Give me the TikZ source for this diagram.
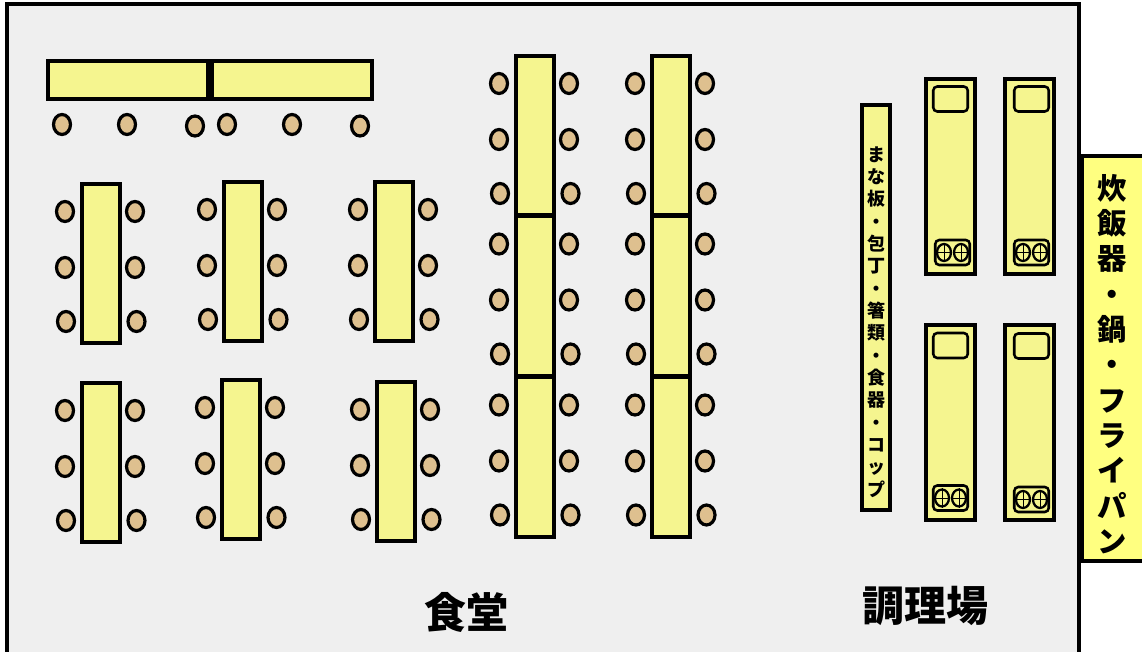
\documentclass[tikz,border=0pt]{standalone}
\usepackage{fontspec}
\usepackage{xcolor}
\usetikzlibrary{shapes.geometric}
\newfontfamily\cjk{Noto Sans CJK JP}

\begin{document}
\begin{tikzpicture}[x=0.75pt,y=-0.75pt,
  floorbox/.style={rectangle,draw=black,fill=floorgray,line width=3pt,minimum width=1072*0.75pt,minimum height=666*0.75pt},
  tablebox/.style={rectangle,draw=black,fill=tableyellow,line width=2.9pt,minimum width=38.2*0.75pt,minimum height=159.2*0.75pt,inner sep=0},
  widebox/.style={tablebox,minimum width=160.2*0.75pt,minimum height=38.2*0.75pt},
  chairdot/.style={ellipse,draw=black,fill=chairtan,line width=2.4pt,minimum width=17*0.75pt,minimum height=20*0.75pt,inner sep=0},
  stovebox/.style={tablebox,line width=3pt,minimum width=49*0.75pt,minimum height=195*0.75pt},
  sinkbox/.style={rectangle,rounded corners=3pt,draw=black,fill=tableyellow,line width=1.9pt,minimum width=34.5*0.75pt,minimum height=25*0.75pt,inner sep=0},
  burnerdot/.style={ellipse,draw=black,line width=1.7pt,minimum width=14*0.75pt,minimum height=17*0.75pt,inner sep=0},
  bigtext/.style={font=\cjk\bfseries\fontsize{31.5}{31.5}\selectfont,inner sep=0},
  sidetext/.style={align=center,inner sep=0,font=\cjk\bfseries\fontsize{22}{26.5}\selectfont},
  thintext/.style={align=center,inner sep=0,font=\cjk\bfseries\fontsize{13.5}{16.75}\selectfont}]
\definecolor{floorgray}{HTML}{EFEFEF}
\definecolor{tableyellow}{HTML}{F5F58F}
\definecolor{shelfyellow}{HTML}{FFFF80}
\definecolor{chairtan}{HTML}{DEC08F}

\useasboundingbox (0,0) rectangle (1142,652);
\node [floorbox] (room) at (543,337) {};

\node [widebox] (wideA) at (128,80) {};
\node [widebox] (wideB) at (292,80) {};
\foreach \nm/\cx/\cy in {a/62/124.5,b/127/124.5,c/195/126,d/227/124.5,e/292/124.5,f/360/126}
  {  \node [chairdot] (wide\nm) at (\cx,\cy) {};}

\foreach \nm/\tx/\ty in {t1/101/263.5,t2/243/261.5,t3/394/261.5,t4/101/462.5,t5/241/459.5,t6/396/461.5,
    p1/535/135.5,p2/535/296,p3/535/457,q1/671/135.5,q2/671/296,q3/671/457}
{
  \node [tablebox] (\nm) at (\tx,\ty) {};
  \node [chairdot] (\nm-l1) at (\tx-36,\ty-52) {};
  \node [chairdot] (\nm-l2) at (\tx-36,\ty+4) {};
  \node [chairdot] (\nm-l3) at (\tx-35,\ty+58) {};
  \node [chairdot] (\nm-r1) at (\tx+34,\ty-52) {};
  \node [chairdot] (\nm-r2) at (\tx+34,\ty+4) {};
  \node [chairdot] (\nm-r3) at (\tx+35.5,\ty+58) {};
}

\node [rectangle,draw=black,fill=tableyellow,line width=3pt,minimum width=28*0.75pt,minimum height=405*0.75pt,inner sep=0] (shelf) at (876,307.5) {};
\node [thintext] (shelftext) at (876,322) {ま\\な\\板\\・\\包\\丁\\・\\箸\\類\\・\\食\\器\\・\\コ\\ッ\\プ};

\foreach \nm/\sx/\sy/\kx/\ky/\bx/\by/\dx in {A/950/176.5/950.5/99/952.5/252.5/944,B/1029/176.5/1031.5/99/1031.5/252.5/1023,
    C/950/422/950.5/345.5/950.5/498/942,D/1029.5/422/1031.5/346/1031.5/499.5/1023}
{
  \node [stovebox] (stove\nm) at (\sx,\sy) {};
  \node [sinkbox] (sink\nm) at (\kx,\ky) {};
  \node [sinkbox] (plate\nm) at (\bx,\by) {};
  \node [burnerdot] (left\nm) at (\dx,\by) {};
  \node [burnerdot] (right\nm) at (\dx+17,\by) {};
  \draw [line width=0.7pt] (left\nm.north) -- (left\nm.south) (left\nm.west) -- (left\nm.east);
  \draw [line width=0.7pt] (right\nm.north) -- (right\nm.south) (right\nm.west) -- (right\nm.east);
}

\node [rectangle,draw=black,fill=shelfyellow,line width=3pt,minimum width=80*0.75pt,minimum height=405*0.75pt,inner sep=0] (rack) at (1122,358.5) {};
\node [sidetext] (racktext) at (1112,364) {炊\\飯\\器\\・\\鍋\\・\\フ\\ラ\\イ\\パ\\ン};

\node [bigtext] (diningtext) at (466,612) {食堂};
\node [bigtext] (kitchentext) at (925,606) {調理場};
\end{tikzpicture}
\end{document}
